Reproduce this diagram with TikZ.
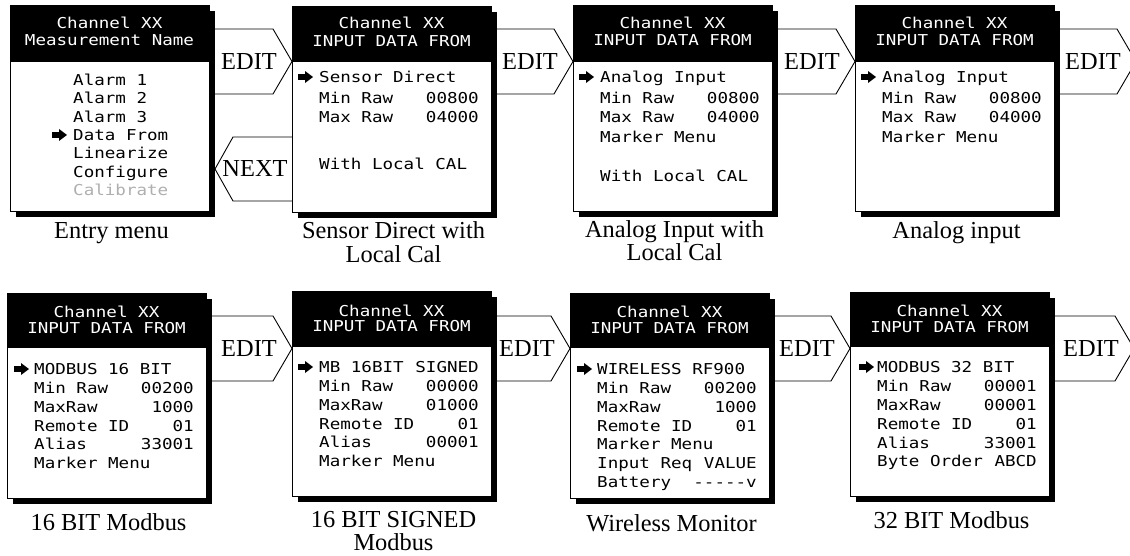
\documentclass[tikz,border=0pt]{standalone}
\usepackage{fontspec}
\setmainfont{Liberation Serif}
\newfontfamily\lcdfont[FakeStretch=1.17]{DejaVu Sans Mono}
\usetikzlibrary{calc,shadows}
\definecolor{dimgray}{RGB}{175,175,175}
\tikzset{
  scr/.style={draw=black, line width=0.8pt, fill=white, minimum width=199pt, minimum height=#1,
    inner sep=0pt, outer sep=0pt, anchor=north west,
    drop shadow={shadow xshift=6pt, shadow yshift=-6pt, fill=black, opacity=1}},
  scr/.default=206pt,
  lcd/.style={font=\lcdfont\fontsize{15}{15}\selectfont, inner sep=0pt, text height=11pt, text depth=0pt},
  hdrtxt/.style={lcd, text=white},
  captxt/.style={font=\fontsize{24.4}{26}\selectfont, inner sep=0pt, anchor=base},
  lbltxt/.style={font=\fontsize{24.4}{26}\selectfont, inner sep=0pt, text height=16pt, text depth=0pt},
  flow/.style={draw=black, line width=0.9pt, line join=miter}
}
\newcommand\scrhdr[5]{%
  \fill[black] (#1.north west) rectangle ($(#1.north east)+(0,#2)$);
  \node[hdrtxt] (#1t1) at ($(#1.north)+(0,#5)$) {#3};
  \node[hdrtxt] (#1t2) at ($(#1.north)+(0,35)$) {#4};
}
\def\tx{27}
\newcommand\mrow[5]{%
  \node[lcd, anchor=west] (#1#2) at ($(#1.north west)+(\tx,#3)$) {#4};
  \node[lcd, anchor=east] (#1#2v) at ($(#1.north west)+(187,#3)$) {#5};
}
\newcommand\selmark[3]{%
  \fill ($(#1.north west)+(#2,#3)$) ++(0,-2.8) -- ++(7,0) -- ++(0,-3.2) -- ++(8,6) -- ++(-8,6) -- ++(0,-3.2) -- ++(-7,0) -- cycle;
}
\newcommand\editarrow[4]{%
  \draw[flow] let \p1=($(#1.north east)+(6,#3)$), \p2=(#2.north west) in
    (\x1,\y1) -- (\x2-19pt,\y1) -- (\x2,\y1-32.5pt) -- (\x2-19pt,\y1-65pt) -- (\x1,\y1-65pt)
    (\x2-43pt,\y1-32.5pt) node[lbltxt] (#4) {EDIT};
}
\begin{document}
\begin{tikzpicture}[x=1pt,y=-1pt]
\useasboundingbox (0,0) rectangle (1130,556);
\clip (0,0) rectangle (1130,556);

% ---------- row 1 ----------
\node[scr] (p1) at (10,5) {};
\node[scr] (p2) at (292,6) {};
\node[scr] (p3) at (573,5) {};
\node[scr] (p4) at (855,5) {};
\coordinate (end1) at (1136,0);

\scrhdr{p1}{57}{Channel XX}{Measurement Name}{18}
\scrhdr{p2}{56}{Channel XX}{INPUT DATA FROM}{17}
\scrhdr{p3}{57}{Channel XX}{INPUT DATA FROM}{18}
\scrhdr{p4}{57}{Channel XX}{INPUT DATA FROM}{18}

\def\tx{63}
\mrow{p1}{a}{75}{Alarm 1}{}
\mrow{p1}{b}{93}{Alarm 2}{}
\mrow{p1}{c}{112}{Alarm 3}{}
\mrow{p1}{d}{130}{Data From}{}
\mrow{p1}{e}{148}{Linearize}{}
\mrow{p1}{f}{167}{Configure}{}
\node[lcd, anchor=west, text=dimgray] (p1g) at ($(p1.north west)+(63,185)$) {Calibrate};
\selmark{p1}{42}{130}

\def\tx{27}
\mrow{p2}{a}{71}{Sensor Direct}{}
\mrow{p2}{b}{92}{Min Raw}{00800}
\mrow{p2}{c}{111}{Max Raw}{04000}
\mrow{p2}{d}{158}{With Local CAL}{}
\selmark{p2}{6}{71}

\mrow{p3}{a}{72}{Analog Input}{}
\mrow{p3}{b}{93}{Min Raw}{00800}
\mrow{p3}{c}{112}{Max Raw}{04000}
\mrow{p3}{d}{132}{Marker Menu}{}
\mrow{p3}{e}{171}{With Local CAL}{}
\selmark{p3}{6}{72}

\mrow{p4}{a}{72}{Analog Input}{}
\mrow{p4}{b}{93}{Min Raw}{00800}
\mrow{p4}{c}{112}{Max Raw}{04000}
\mrow{p4}{d}{132}{Marker Menu}{}
\selmark{p4}{6}{72}

\editarrow{p1}{p2}{24}{e1}
\editarrow{p2}{p3}{23}{e2}
\editarrow{p3}{p4}{24}{e3}
\editarrow{p4}{end1}{24}{e4}

\draw[flow] let \p1=(p2.north west), \p2=(p1.north east) in
  (\x1,\y1-131pt) -- (\x1-59pt,\y1-131pt) -- (\x2+6pt,\y1-163pt) -- (\x1-59pt,\y1-195pt) -- (\x1,\y1-195pt)
  (\x1-37pt,\y1-163pt) node[lbltxt] (nx) {NEXT};

\node[captxt] (c1) at ($(p1.north)+(2,234)$) {Entry menu};
\node[captxt] (c2a) at ($(p2.north)+(2,233)$) {Sensor Direct with};
\node[captxt] (c2b) at ($(p2.north)+(2,256)$) {Local Cal};
\node[captxt] (c3a) at ($(p3.north)+(2,233)$) {Analog Input with};
\node[captxt] (c3b) at ($(p3.north)+(2,256)$) {Local Cal};
\node[captxt] (c4) at ($(p4.north)+(2,234)$) {Analog input};

% ---------- row 2 ----------
\node[scr=205pt] (p5) at (7,293) {};
\node[scr=205pt] (p6) at (292,291) {};
\node[scr=205pt] (p7) at (570,293) {};
\node[scr=204pt] (p8) at (850,292) {};
\coordinate (end2) at (1134,0);

\scrhdr{p5}{55}{Channel XX}{INPUT DATA FROM}{19}
\scrhdr{p6}{56}{Channel XX}{INPUT DATA FROM}{20}
\scrhdr{p7}{55}{Channel XX}{INPUT DATA FROM}{19}
\scrhdr{p8}{55}{Channel XX}{INPUT DATA FROM}{19}

\mrow{p5}{a}{76}{MODBUS 16 BIT}{}
\mrow{p5}{b}{95}{Min Raw}{00200}
\mrow{p5}{c}{114}{MaxRaw}{1000}
\mrow{p5}{d}{133}{Remote ID}{01}
\mrow{p5}{e}{151}{Alias}{33001}
\mrow{p5}{f}{170}{Marker Menu}{}
\selmark{p5}{7}{76}

\mrow{p6}{a}{76}{MB 16BIT}{SIGNED}
\mrow{p6}{b}{95}{Min Raw}{00000}
\mrow{p6}{c}{114}{MaxRaw}{01000}
\mrow{p6}{d}{133}{Remote ID}{01}
\mrow{p6}{e}{151}{Alias}{00001}
\mrow{p6}{f}{170}{Marker Menu}{}
\selmark{p6}{6}{76}

\mrow{p7}{a}{76}{WIRELESS RF900}{}
\mrow{p7}{b}{95}{Min Raw}{00200}
\mrow{p7}{c}{114}{MaxRaw}{1000}
\mrow{p7}{d}{133}{Remote ID}{01}
\mrow{p7}{e}{151}{Marker Menu}{}
\mrow{p7}{f}{170}{Input Req}{VALUE}
\mrow{p7}{g}{189}{Battery}{-{}-{}-{}-{}-v}
\selmark{p7}{7}{76}

\mrow{p8}{a}{75}{MODBUS 32 BIT}{}
\mrow{p8}{b}{94}{Min Raw}{00001}
\mrow{p8}{c}{113}{MaxRaw}{00001}
\mrow{p8}{d}{132}{Remote ID}{01}
\mrow{p8}{e}{151}{Alias}{33001}
\mrow{p8}{f}{169}{Byte Order}{ABCD}
\selmark{p8}{9}{75}

\editarrow{p5}{p6}{23}{e5}
\editarrow{p6}{p7}{25}{e6}
\editarrow{p7}{p8}{23}{e7}
\editarrow{p8}{end2}{24}{e8}

\node[captxt] (c5) at ($(p5.north)+(2,237)$) {16 BIT Modbus};
\node[captxt] (c6a) at ($(p6.north)+(2,236)$) {16 BIT SIGNED};
\node[captxt] (c6b) at ($(p6.north)+(2,259)$) {Modbus};
\node[captxt] (c7) at ($(p7.north)+(2,238)$) {Wireless Monitor};
\node[captxt] (c8) at ($(p8.north)+(2,236)$) {32 BIT Modbus};
\end{tikzpicture}
\end{document}
